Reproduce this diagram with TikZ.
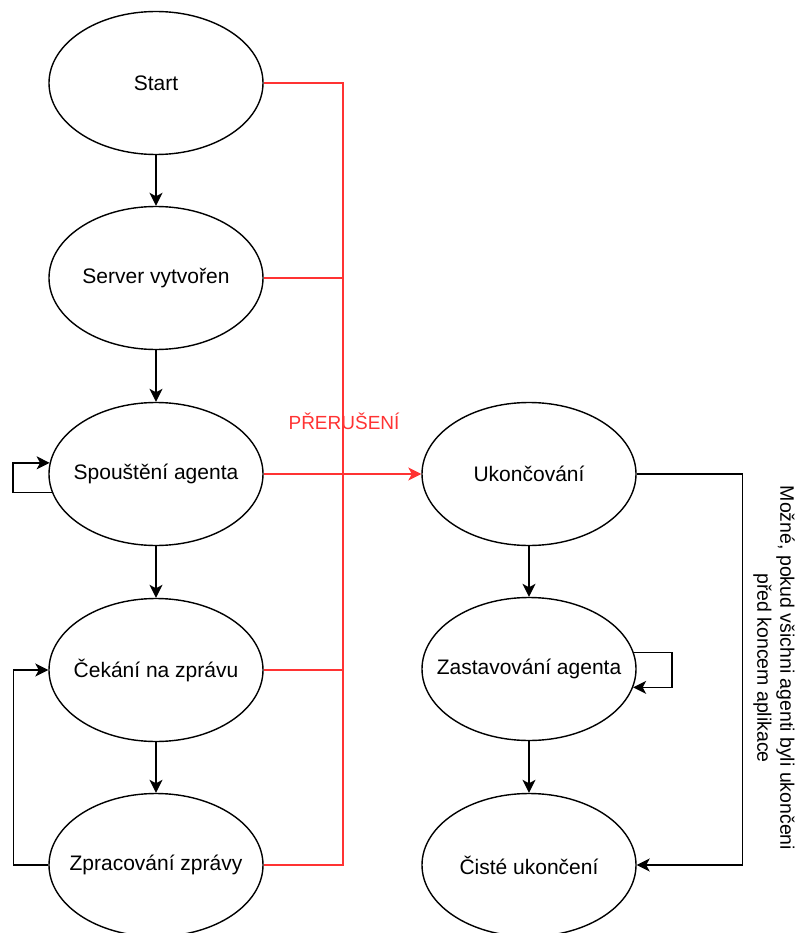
\documentclass[tikz,border=0pt]{standalone}
\usepackage{fontspec}
\setmainfont{Liberation Sans}
\usetikzlibrary{arrows.meta,shapes.geometric}
\definecolor{stopRed}{RGB}{255,51,51}

\begin{document}
\begin{tikzpicture}
[x=1pt,y=-1pt,
  stateDecorate/.style={shape=ellipse,draw,line width=1.4pt,minimum width=214pt,minimum height=143pt,inner sep=-25pt,font=\fontsize{21}{25}\selectfont},%
  lineDecorate/.style={-{Stealth[length=13pt,width=13pt,inset=3.5pt]},line width=1.4pt},%
  stopDecorate/.style={line width=1.4pt,draw=stopRed},%
  noteDecorate/.style={rotate=-90,align=center,font=\fontsize{19.5}{23}\selectfont}]
\useasboundingbox (0,0) rectangle (799,933);
%% states
\foreach \nodename/\x/\y/\txt in {
  start/156/83/Start, server/156/278/Server vytvořen, spoust/156/474/Spouštění agenta,
  cekani/156/670/Čekání na zprávu, zprac/156/865/Zpracování zprávy,
  ukonc/529/474/Ukončování, zastav/529/669/Zastavování agenta, ciste/529/865/Čisté ukončení}
{
  \node (\nodename) at (\x,\y) [stateDecorate] {\txt};
}
%% transitions
\path
\foreach \startnode/\endnode in {start/server, server/spoust, spoust/cekani, cekani/zprac,
  ukonc/zastav, zastav/ciste}
{
  (\startnode) edge[lineDecorate] (\endnode)
};
%% loops
\draw[lineDecorate] (spoust.190) -- ++(-39,0) |- (spoust.174);
\draw[lineDecorate] (zprac.west) -- ++(-35,0) |- (cekani.west);
\draw[lineDecorate] (zastav.9) -- ++(38,0) |- (zastav.-10);
\draw[lineDecorate] (ukonc.east) -- ++(106,0) |- (ciste.east);
\node (note) at (774,668) [noteDecorate] {Možné, pokud všichni agenti byli ukončeni\\před koncem aplikace};
%% interrupt
\coordinate (busTop) at (343,83);
\draw[stopDecorate] (start.east) -- (busTop) -- (busTop |- zprac.east) -- (zprac.east);
\foreach \nodename in {server, cekani}
{
  \draw[stopDecorate] (\nodename.east) -- (\nodename.east -| busTop);
}
\draw[stopDecorate,-{Stealth[length=13pt,width=13pt,inset=3.5pt]}] (spoust.east) -- (ukonc.west);
\node (preruseni) at (344,421) [text=stopRed,font=\fontsize{19}{23}\selectfont] {PŘERUŠENÍ};
\end{tikzpicture}
\end{document}
